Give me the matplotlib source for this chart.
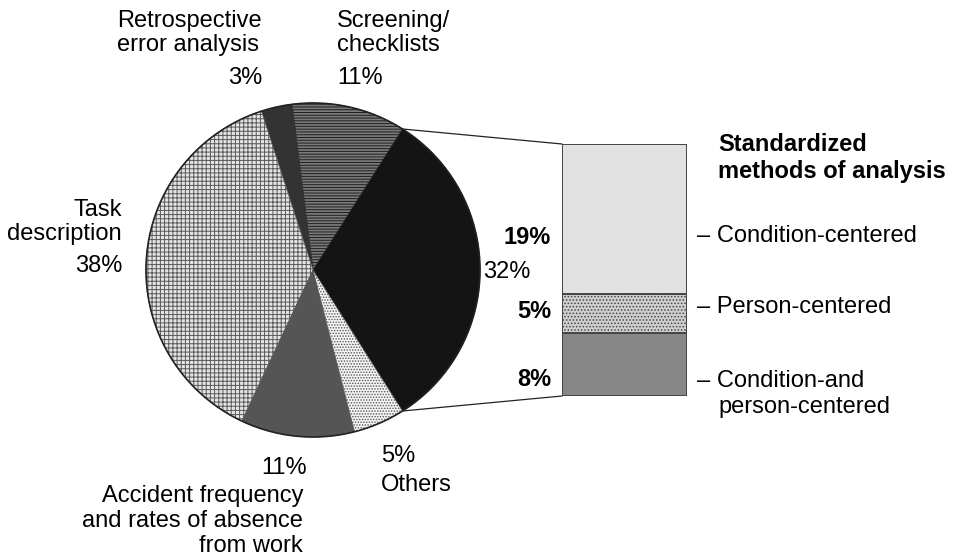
import numpy as np
import matplotlib.pyplot as plt
from matplotlib.patches import ConnectionPatch, Circle

plt.rcParams['font.family'] = ['Liberation Sans', 'DejaVu Sans']
plt.rcParams['hatch.linewidth'] = 0.7

W, H = 957, 559

# pie slices, counterclockwise starting with the standardized-methods slice
pie_labels = ['Standardized methods', 'Screening/\nchecklists', 'Retrospective\nerror analysis',
              'Task\ndescription', 'Accident frequency\nand rates of absence\nfrom work', 'Others']
pie_values = [32, 11, 3, 38, 11, 5]
pie_colors = ['#141414', '#7a7a7a', '#333333', '#e4e4e4', '#555555', '#f4f4f4']
pie_hatches = [None, '------', None, '++++', None, '......']
pie_hatch_colors = ['#141414', '#1e1e1e', '#333333', '#5a5a5a', '#555555', '#555555']

# breakdown of the standardized slice, bottom to top
bar_labels = ['Condition-and\nperson-centered', 'Person-centered', 'Condition-centered']
bar_values = [8, 5, 19]
bar_colors = ['#878787', '#cfcfcf', '#e1e1e1']
bar_hatches = [None, '.....', None]

fig = plt.figure(figsize=(W / 100, H / 100), dpi=100)
ax = fig.add_axes([0, 0, 1, 1])

cx, cy, r = 313, H - 270, 167
start = -pie_values[0] / sum(pie_values) * 360 / 2
wedges, _ = ax.pie(pie_values, colors=pie_colors, startangle=start, center=(cx, cy),
                   radius=r, counterclock=True, wedgeprops=dict(linewidth=0.5))
for w, h, hc in zip(wedges, pie_hatches, pie_hatch_colors):
    if h:
        w.set_hatch(h)
    w.set_edgecolor(hc)
ax.add_patch(Circle((cx, cy), r, fill=False, ec='#222222', lw=1.2))
ax.set_xlim(0, W)
ax.set_ylim(0, H)
ax.set_aspect('equal')
ax.axis('off')

# stacked bar
bax = fig.add_axes([562 / W, (H - 396) / H, 125 / W, 252 / H])
bottoms = np.concatenate([[0], np.cumsum(bar_values)[:-1]])
for v, b, c, h in zip(bar_values, bottoms, bar_colors, bar_hatches):
    bax.bar(0, v, bottom=b, width=1, color=c, hatch=h, edgecolor='#444444', linewidth=1.4)
bax.set_xlim(-0.5, 0.5)
bax.set_ylim(0, sum(bar_values))
bax.axis('off')

# connector lines
w0 = wedges[0]
for th, yb in [(w0.theta1, 0), (w0.theta2, sum(bar_values))]:
    p = (cx + r * np.cos(np.radians(th)), cy + r * np.sin(np.radians(th)))
    con = ConnectionPatch(xyA=p, coordsA=ax.transData, xyB=(-0.5, yb), coordsB=bax.transData,
                          color='#222222', lw=0.9)
    fig.add_artist(con)

fs = 17
kw = dict(fontsize=fs, linespacing=1.17)


def pct(v):
    return f'{v}%'


# pie labels
ax.text(117, H - 33, pie_labels[2], ha='left', va='center', **kw)
ax.text(262, H - 78, pct(pie_values[2]), ha='right', va='center', **kw)
ax.text(337, H - 33, pie_labels[1], ha='left', va='center', **kw)
ax.text(337, H - 78, pct(pie_values[1]), ha='left', va='center', **kw)
ax.text(122, H - 222, pie_labels[3], ha='right', va='center', multialignment='right', **kw)
ax.text(122, H - 266, pct(pie_values[3]), ha='right', va='center', **kw)
ax.text(483, H - 272, pct(pie_values[0]), ha='left', va='center', **kw)
ax.text(307, H - 468, pct(pie_values[4]), ha='right', va='center', **kw)
ax.text(303, H - 521, pie_labels[4], ha='right', va='center', multialignment='right', **kw)
ax.text(381, H - 456, pct(pie_values[5]), ha='left', va='center', **kw)
ax.text(381, H - 485, pie_labels[5], ha='left', va='center', **kw)

# bar labels
for v, y in zip(bar_values, [380, 311, 237]):
    ax.text(551, H - y, pct(v), ha='right', va='center', fontweight='bold', **kw)
ax.text(718, H - 158, 'Standardized\nmethods of analysis', ha='left', va='center',
        fontweight='bold', **kw)
ax.text(697, H - 236, '\u2013 ' + bar_labels[2], ha='left', va='center', **kw)
ax.text(697, H - 307, '\u2013 ' + bar_labels[1], ha='left', va='center', **kw)
first, second = bar_labels[0].split('\n')
ax.text(697, H - 381, '\u2013 ' + first, ha='left', va='center', **kw)
ax.text(718, H - 407, second, ha='left', va='center', **kw)

fig.savefig('out.png', dpi=100, facecolor='white')
